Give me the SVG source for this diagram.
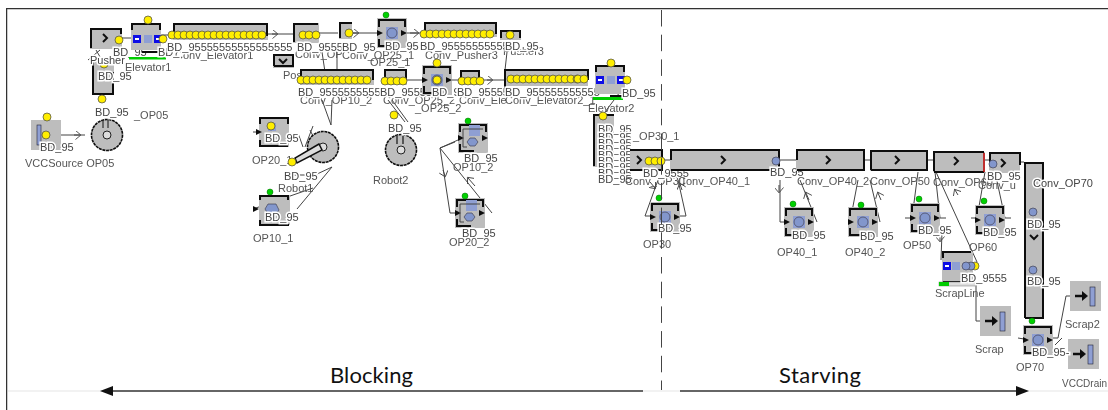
<svg xmlns="http://www.w3.org/2000/svg" width="1108" height="410" viewBox="0 0 1108 410">
<style>
.bg{fill:#fff}
.b{fill:#bdbdbd}
.k{fill:none;stroke:#111;stroke-width:2}
.c{fill:none;stroke:#444;stroke-width:1}
.t{font-family:"Liberation Sans",Arial,sans-serif;font-size:11px;fill:#555}
.l{font-family:"Liberation Sans",Arial,sans-serif;font-size:11px;fill:#444;paint-order:stroke;stroke:#fff;stroke-width:3px}
.big{font-family:Lato,"Open Sans",sans-serif;font-size:22px;fill:#111}
.y{fill:#ffee00;stroke:#444;stroke-width:.7}
.p{fill:#8296cc;stroke:#445;stroke-width:.7}
.g{fill:#00d000;stroke:#060;stroke-width:.5}
.q{fill:#8f9fd3}
.blue{fill:#0a0ae6}
.w{fill:#fff}
.a{fill:#111}
.ax{fill:none;stroke:#666;stroke-width:2}
.f{fill:none;stroke:#eee;stroke-width:1.500}
.fr{fill:none;stroke:#333;stroke-width:1.500}
.d{fill:none;stroke:#444;stroke-width:1;stroke-dasharray:16.5 8.2}
</style>
<defs>
<filter id="soft" x="0" y="0" width="100%" height="100%"><feGaussianBlur stdDeviation="0.35"/></filter>
<marker id="v" viewBox="0 0 10 10" refX="6" refY="5" markerWidth="9" markerHeight="9" orient="auto" markerUnits="userSpaceOnUse"><path d="M1 0L7 5L1 10" fill="none" stroke="#444" stroke-width="1"/></marker>
<circle id="y" r="4" class="y"/>
<g id="t2"><use href="#y" x="0"/><use href="#y" x="6"/></g>
<g id="t4"><use href="#t2" x="0"/><use href="#t2" x="12"/></g>
<g id="t8"><use href="#t4" x="0"/><use href="#t4" x="24"/></g>
<path id="chev" d="M-2-4L2 0L-2 4" fill="none" stroke="#111" stroke-width="2"/>
<g id="bs"><rect width="8" height="8" class="blue"/><rect x="2" y="3" width="4" height="2" class="w"/></g>
<g id="mg">
<rect width="30" height="30" class="b"/>
<path d="M2 9V2H28V9M2 21V28H16" class="k"/>
<path d="M0 12L6 15L0 18ZM24 12L30 15L24 18Z" class="a"/>
</g>
<g id="m"><use href="#mg"/><rect x="9" y="9" width="12" height="12" class="q"/><circle cx="15" cy="15" r="5" class="p"/></g>
<g id="m2"><use href="#mg"/><rect x="11" y="2" width="11" height="11" class="q"/><path d="M9 19l3-4h5l3 4l-3 4h-5z" class="p"/><path d="M5 6H25M5 6V24M5 24H9" class="c"/></g>
<g id="wheel"><circle r="15.5" fill="#bdbdbd" stroke="#111" stroke-width="1.6" stroke-dasharray="3 .7"/><circle r="4" fill="#ddd" stroke="#222"/></g>
<g id="sink"><rect width="31" height="30" class="b"/><rect x="20" y="6" width="5" height="19" class="q" stroke="#223" stroke-width=".6"/><path d="M5 15H14" stroke="#111" stroke-width="2.500"/><path d="M12 10L18 15L12 20Z" class="a"/></g>
</defs>
<rect width="1108" height="410" class="bg"/>
<g filter="url(#soft)">
<g id="frame">
<path d="M6.500 410V8.500H1108" class="fr"/>
<path d="M8 391H1108" class="f"/>
</g>
<g id="connectors">
<path d="M61 135H85" class="c"/><path d="M74 135H80" class="c" marker-end="url(#v)"/>
<path d="M122 38H131M161 35H173M103 62L96 50M88 60L100 50" class="c"/>
<path d="M268 34H293" class="c"/><path d="M272 34H277" class="c" marker-end="url(#v)"/>
<path d="M318 33H338M352 33H377M407 33H424" class="c"/><path d="M350 33H358" class="c" marker-end="url(#v)"/><path d="M410 33H418" class="c" marker-end="url(#v)"/>
<path d="M322 52L325 72M337 52V72M322 100L331 125L332 100" class="c"/>
<path d="M406 80H422M452 80H460M482 80H505" class="c"/><path d="M487 80H492" class="c" marker-end="url(#v)"/>
<path d="M507 52L505 70M388 100L405 122M392 100L408 122M623 88L605 112" class="c"/>
<path d="M253 132H262M298 133L303 147M305 147L313 126" class="c"/><path d="M310 130L315 140" class="c"/>
<path d="M253 209L313 188M297 209L332 167L315 175L290 175" class="c"/>
<path d="M440 148L458 140H470M440 148L450 213H458M440 148L492 213M440 148L455 142" class="c"/>
<path d="M443 170L445 176" class="c" marker-end="url(#v)"/><path d="M475 186L468 178" class="c" marker-end="url(#v)"/>
<path d="M663 160H670M780 160H796M865 160H870M927 160H933M985 160H989M1020 162H1024" class="c"/>
<path d="M658 180L645 216H652M680 216H686L678 180M780 180V222H786M817 222L800 180M850 222L858 180M880 222L870 180" class="c"/>
<path d="M650 182L655 188" class="c" marker-end="url(#v)"/><path d="M682 190L680 184" class="c" marker-end="url(#v)"/>
<path d="M779 185V192" class="c" marker-end="url(#v)"/><path d="M809 200L806 193" class="c" marker-end="url(#v)"/><path d="M881 200L878 193" class="c" marker-end="url(#v)"/>
<path d="M905 218H912L918 172M946 218H940L935 172M936 172L977 262M941 260L942 232L944 230" class="c"/>
<path d="M971 218H977L985 172M1011 218H1005L995 172" class="c"/>
<path d="M958 195L955 190" class="c" marker-end="url(#v)"/><path d="M940 235V241" class="c" marker-end="url(#v)"/>
<path d="M976 283V321H982M1030 340L1018 338M1053 338H1058L1066 296H1070" class="c"/>
<path d="M1055 345L1062 338" class="c"/>
</g>

<g id="VCCSource"><rect x="31" y="120" width="30" height="30" class="b"/><rect x="37" y="125" width="4" height="20" class="q" stroke="#223" stroke-width=".6"/><use href="#y" x="46" y="135"/><use href="#y" x="47" y="117"/><text x="40" y="151" class="l">BD_95</text><text x="25" y="167" class="t">VCCSource OP05</text></g>
<g id="Robot0"><use href="#wheel" x="107" y="135"/><path d="M103 120V128M108 120V128" stroke="#111" stroke-width="1"/><text x="134" y="119" class="t">_OP05</text><text x="95" y="116" class="l">BD_95</text></g>
<g id="ConvOP05"><rect x="92" y="60" width="22" height="35" class="b"/><path d="M93 60V94H113V72" class="k"/><use href="#y" x="104" y="64"/><use href="#y" x="102" y="99"/><text x="98" y="80" class="l">BD_95</text></g>
<g id="Pusher"><rect x="90" y="28" width="32" height="21" class="b"/><path d="M91 48V29H121V34" class="k"/><use href="#chev" x="105" y="38"/><use href="#y" x="119" y="40"/><text x="90" y="64" class="l">Pusher</text><text x="113" y="56" class="l">BD_95</text></g>
<g id="Elevator1"><rect x="131" y="24" width="30" height="26" class="b"/><path d="M132 30V24H160V30M142 52H160" class="k"/><use href="#bs" x="133" y="35"/><rect x="144" y="35" width="8" height="8" class="q"/><use href="#bs" x="154" y="35"/><use href="#y" x="148" y="20"/><use href="#y" x="163" y="39"/><rect x="129" y="57" width="37" height="2.500" fill="#0c0"/><text x="125" y="71" class="t">Elevator1</text></g>
<g id="ConvElevator1"><rect x="173" y="24" width="95" height="16" class="b"/><path d="M174 36V24H267V36" class="k"/><use href="#t8" x="172" y="35"/><use href="#t8" x="220" y="35"/><text x="175" y="59" class="t">Conv_Elevator1</text><text x="158" y="56" class="l">BD_</text><text x="167" y="51" class="l">BD_95555555555555555</text></g>
<g id="ConvOP10"><rect x="293" y="23" width="26" height="20" class="b"/><path d="M294 42V24H318" class="k"/><use href="#t2" x="303" y="35"/><use href="#y" x="316" y="35"/><text x="295" y="58" class="t">Conv_OP</text><text x="297" y="51" class="l">BD_95555</text></g>
<g id="Pusher2"><rect x="273" y="54" width="21" height="14" class="b"/><path d="M274 66V55H293V66H274" class="k"/><path d="M279 59L283 63L287 59" class="k"/><text x="283" y="79" class="t">Pos</text></g>
<g id="ConvOP25"><rect x="339" y="22" width="13" height="17" class="b"/><path d="M340 38V23H352" class="k"/><use href="#y" x="349" y="33"/><text x="342" y="59" class="t">Conv_OP25_1</text><text x="342" y="51" class="l">BD_95</text></g>
<g id="OP25_1"><use href="#m" x="377" y="18"/><circle cx="386" cy="15" r="3" class="g"/><text x="370" y="66" class="t">OP25_1</text><text x="385" y="50" class="l">BD_95</text></g>
<g id="ConvPusher3"><rect x="424" y="22" width="73" height="15" class="b"/><path d="M425 34V23H496V34" class="k"/><use href="#t8" x="424" y="34"/><use href="#t4" x="472" y="34"/><text x="425" y="59" class="t">Conv_Pusher3</text><text x="420" y="50" class="l">BD_95555555555</text></g>
<g id="Pusher3"><rect x="500" y="30" width="21" height="10" class="b"/><path d="M501 38V31H520V38" class="k"/><use href="#y" x="510" y="35"/><text x="503" y="55" class="t">Pusher3</text><text x="505" y="50" class="l">BD_95</text></g>
<g id="ConvOP10_2"><rect x="300" y="69" width="74" height="16" class="b"/><path d="M301 80V70H373V80" class="k"/><use href="#t8" x="301" y="80"/><use href="#t4" x="349" y="80"/><text x="300" y="104" class="t">Conv_OP10_2</text><text x="298" y="96" class="l">BD_9555555555</text></g>
<g id="ConvOP25_2"><rect x="384" y="69" width="23" height="16" class="b"/><path d="M385 80V70H406V80" class="k"/><use href="#t4" x="385" y="81"/><text x="383" y="104" class="t">Conv_OP25_2</text><text x="380" y="96" class="l">BD_95555</text><use href="#y" x="394" y="115"/></g>
<g id="OP25_2"><use href="#m" x="422" y="65"/><use href="#y" x="437" y="80"/><use href="#y" x="437" y="63"/><text x="415" y="112" class="t">_OP25_2</text><text x="432" y="96" class="l">BD_9</text></g>
<g id="ConvElevator"><rect x="460" y="70" width="20" height="15" class="b"/><path d="M461 80V71H479V80" class="k"/><use href="#t4" x="462" y="81"/><text x="459" y="104" class="t">Conv_Ele</text><text x="457" y="96" class="l">BD_95555</text></g>
<g id="ConvElevator2"><rect x="505" y="70" width="83" height="16" class="b"/><path d="M505 88V70H588V80" class="k"/><use href="#t8" x="511" y="79"/><use href="#t4" x="559" y="79"/><use href="#t2" x="578" y="79"/><text x="505" y="104" class="t">Conv_Elevator2_1</text><text x="505" y="96" class="l">BD_955555555555</text></g>
<g id="Elevator2"><rect x="595" y="66" width="30" height="28" class="b"/><path d="M596 72V66H624V72M610 96H624" class="k"/><use href="#bs" x="596" y="76"/><rect x="607" y="76" width="8" height="8" class="q"/><use href="#bs" x="617" y="76"/><use href="#y" x="611" y="63"/><use href="#y" x="627" y="80"/><rect x="593" y="97" width="30" height="3" fill="#0c0"/><text x="622" y="97" class="l">BD_95</text><text x="588" y="112" class="t">Elevator2</text></g>
<g id="ConvOP30_1"><rect x="593" y="115" width="21" height="52" class="b"/><path d="M594 166V115H614" class="k"/><use href="#y" x="603" y="116"/>
<text x="598" y="133" class="l">BD_95</text><text x="633" y="140" class="t">_OP30_1</text>
<text x="598" y="141" class="l">BD_95</text><text x="598" y="147" class="l">BD_95</text><text x="598" y="153" class="l">BD_95</text><text x="598" y="159" class="l">BD_95</text><text x="598" y="165" class="l">BD_95</text><text x="598" y="171" class="l">BD_95</text><text x="598" y="177" class="l">BD_95</text><text x="598" y="183" class="l">BD_95</text></g>
<g id="ConvOP30"><rect x="630" y="150" width="33" height="20" class="b"/><path d="M630 150H662V170H630" class="k"/><use href="#chev" x="639" y="160"/><use href="#y" x="649" y="161"/><use href="#y" x="655" y="161"/><use href="#y" x="661" y="161"/><text x="625" y="185" class="t">Conv_OP30</text><text x="643" y="177" class="l">BD_9555</text></g>
<g id="OP30"><use href="#m" x="650" y="202"/><circle cx="659" cy="198" r="3" class="g"/><text x="658" y="232" class="l">BD_95</text><text x="643" y="248" class="t">OP30</text></g>
<g id="ConvOP40_1"><rect x="670" y="150" width="110" height="21" class="b"/><path d="M671 160V150H779V170H671" class="k"/><use href="#chev" x="723" y="160"/><circle cx="776" cy="161" r="4" class="p"/><text x="678" y="185" class="t">Conv_OP40_1</text><text x="770" y="176" class="l">BD_95</text></g>
<g id="OP40_1"><use href="#m" x="784" y="207"/><circle cx="793" cy="204" r="3" class="g"/><text x="792" y="239" class="l">BD_95</text><text x="777" y="256" class="t">OP40_1</text></g>
<g id="ConvOP40_2"><rect x="796" y="150" width="69" height="21" class="b"/><path d="M797 160V150H864V170H797" class="k"/><use href="#chev" x="828" y="160"/><text x="797" y="185" class="t">Conv_OP40_2</text></g>
<g id="OP40_2"><use href="#m" x="848" y="207"/><circle cx="861" cy="205" r="3" class="g"/><text x="860" y="240" class="l">BD_95</text><text x="845" y="256" class="t">OP40_2</text></g>
<g id="ConvOP50"><rect x="870" y="150" width="58" height="21" class="b"/><path d="M871 170V151H927V170H871" class="k"/><use href="#chev" x="897" y="160"/><text x="870" y="185" class="t">Conv_OP50</text></g>
<g id="OP50"><use href="#m" x="910" y="203"/><circle cx="919" cy="199" r="3" class="g"/><text x="918" y="234" class="l">BD_95</text><text x="903" y="249" class="t">OP50</text></g>
<g id="ConvOP60"><rect x="933" y="152" width="52" height="20" class="b"/><path d="M934 171V152H984M934 172H984" class="k"/><path d="M984 153V172" stroke="#c00000" stroke-width="1.500"/><use href="#chev" x="956" y="161"/><text x="933" y="186" class="t">Conv_OP60</text></g>
<g id="OP60"><use href="#m" x="975" y="205"/><circle cx="984" cy="201" r="3" class="g"/><text x="983" y="236" class="l">BD_95</text><text x="969" y="251" class="t">OP60</text></g>
<g id="ConvShort"><rect x="989" y="153" width="31" height="20" class="b"/><path d="M990 162V153H1020V165" class="k"/><use href="#chev" x="1003" y="163"/><circle cx="993" cy="164" r="4" class="p"/><text x="978" y="189" class="t">Conv_u</text><text x="987" y="180" class="l">BD_95</text></g>
<g id="ConvOP70"><rect x="1024" y="162" width="20" height="156" class="b"/><path d="M1025 318V163H1043V318H1025" class="k"/><use href="#chev" transform="translate(1034 237) rotate(90)"/><circle cx="1033" cy="212" r="4" class="p"/><circle cx="1033" cy="270" r="4" class="p"/><text x="1033" y="187" class="l">Conv_OP70</text><text x="1027" y="228" class="l">BD_95</text><text x="1027" y="285" class="l">BD_95</text></g>
<g id="ScrapLine"><rect x="942" y="252" width="31" height="32" class="b"/><path d="M943 258V252H971M943 282H971" class="k"/><use href="#bs" x="943" y="262"/><rect x="952" y="262" width="8" height="8" class="q"/><circle cx="975" cy="266" r="4" class="y"/><circle cx="971" cy="266" r="4" class="p"/><circle cx="966" cy="266" r="4" class="p"/><rect x="939" y="282" width="36" height="4" fill="#ddd" stroke="#777" stroke-width=".5"/><rect x="939" y="282" width="10" height="4" fill="#0c0"/><text x="961" y="282" class="l">BD_9555</text><text x="935" y="297" class="t">ScrapLine</text></g>
<g id="Scrap"><use href="#sink" x="980" y="306"/><text x="975" y="353" class="t">Scrap</text></g>
<g id="Scrap2"><use href="#sink" x="1070" y="281"/><text x="1065" y="328" class="t">Scrap2</text></g>
<g id="VCCDrain"><use href="#sink" x="1068" y="339"/><text x="1062" y="387" class="t" textLength="45" lengthAdjust="spacingAndGlyphs">VCCDrain</text></g>
<g id="OP70"><use href="#m" x="1023" y="325"/><circle cx="1032" cy="321" r="3" class="g"/><text x="1032" y="356" class="l">BD_95-</text><text x="1016" y="371" class="t">OP70</text></g>
<g id="OP20_1"><rect x="259" y="117" width="30" height="30" class="b"/><path d="M260 124V118H288V124M260 140V146H288" class="k"/><rect x="268" y="123" width="8" height="8" class="q"/><use href="#y" x="271" y="126"/><path d="M256 129L262 132L256 135Z" class="a"/><text x="265" y="142" class="l">BD_95</text><text x="252" y="164" class="t">OP20_1</text></g>
<g id="Robot1"><use href="#wheel" x="323" y="147"/><path d="M319 144L295 158L297 163L322 150Z" fill="#ddd" stroke="#111" stroke-width="1.500"/><use href="#y" x="292" y="162"/><text x="284" y="180" class="l">BD_95</text><text x="278" y="192" class="t">Robot1</text></g>
<g id="OP10_1"><rect x="259" y="195" width="31" height="30" class="b"/><path d="M260 200V196H288V200M260 220V225H289" class="k"/><path d="M268 204h8l3 6l-3 4h-8l-3-5z" class="p"/><circle cx="270" cy="192" r="3" class="g"/><path d="M253 206L259 209L253 212Z" class="a"/><text x="265" y="221" class="l">BD_95</text><text x="253" y="242" class="t">OP10_1</text></g>
<g id="Robot2"><use href="#wheel" x="401" y="150"/><path d="M397 136V144M403 136V144" stroke="#111" stroke-width="1.200"/><text x="388" y="132" class="l">BD_95</text><text x="373" y="184" class="t">Robot2</text></g>
<g id="OP10_2"><use href="#m2" x="458" y="123"/><circle cx="468" cy="121" r="3" class="g"/><text x="464" y="162" class="l">BD_95</text><text x="453" y="171" class="t">OP10_2</text></g>
<g id="OP20_2"><use href="#m2" x="455" y="198"/><circle cx="465" cy="196" r="3" class="g"/><text x="462" y="237" class="l">BD_95</text><text x="449" y="246" class="t">OP20_2</text></g>
</g>
<g id="annotations">
<path d="M661.500 10V390" class="d"/>
<path d="M112 391H643M680 391H1018" class="ax"/>
<path d="M100 391L113 386V396Z" class="a"/><path d="M1029 391L1016 386V396Z" class="a"/>
<text x="330" y="383" class="big" textLength="83">Blocking</text>
<text x="779" y="383" class="big" textLength="82">Starving</text>
</g>
</svg>
